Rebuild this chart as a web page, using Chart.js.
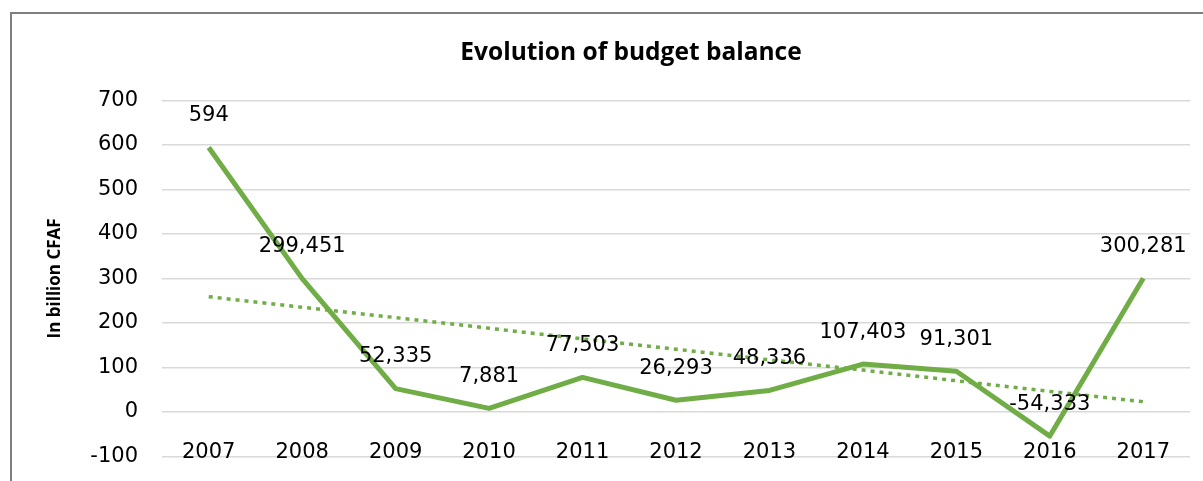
<!DOCTYPE html>
<html>
<head>
<meta charset="utf-8">
<script src="https://cdn.jsdelivr.net/npm/chart.js@4.4.1/dist/chart.umd.min.js"></script>
<style>
  html, body { margin: 0; padding: 0; background: #fff; overflow: hidden; }
  #frame {
    position: absolute; left: 10px; top: 12px;
    width: 1240px; height: 479px;
    border: 2px solid #7f7f7f;
  }
</style>
</head>
<body>
<div id="frame"><canvas id="myChart" width="1240" height="479"></canvas></div>
<script>
// values (billion CFAF)
const years = ["2007", "2008", "2009", "2010", "2011", "2012", "2013", "2014", "2015", "2016", "2017"];
const balance = [594, 299.451, 52.335, 7.881, 77.503, 26.293, 48.336, 107.403, 91.301, -54.333, 300.281];
// dotted trend line as seen in the chart
const trend = [259, 235, 212, 188, 164, 141, 117, 94, 70, 46, 23];

const green = "#70ad47";

// draws the value above each point, with a comma as decimal mark
const valueLabels = {
  id: "valueLabels",
  afterDatasetsDraw(chart) {
    const ctx = chart.ctx;
    const meta = chart.getDatasetMeta(0);
    ctx.save();
    ctx.font = "21px 'DejaVu Sans'";
    ctx.fillStyle = "#000";
    ctx.textAlign = "center";
    ctx.textBaseline = "middle";
    meta.data.forEach((pt, i) => {
      const txt = String(balance[i]).replace(".", ",");
      ctx.fillText(txt, pt.x, pt.y - 32);
    });
    ctx.restore();
  }
};

const chartData = {
  labels: years,
  datasets: [
    {
      label: "Budget balance",
      data: balance,
      borderColor: green,
      borderWidth: 5,
      borderJoinStyle: "round",
      pointRadius: 0,
      tension: 0,
      fill: false,
      order: 2
    },
    {
      label: "Trend",
      data: trend,
      borderColor: green,
      borderWidth: 3.5,
      borderDash: [4, 5],
      pointRadius: 0,
      tension: 0,
      fill: false,
      order: 1
    }
  ]
};

new Chart(document.getElementById("myChart"), {
  type: "line",
  data: chartData,
  plugins: [valueLabels],
  options: {
    responsive: false,
    animation: false,
    layout: { padding: { left: 20, right: 22, top: 0, bottom: 5 } },
    plugins: {
      legend: { display: false },
      tooltip: { enabled: false },
      title: {
        display: true,
        text: "Evolution of budget balance",
        color: "#000",
        font: { family: "Open Sans", size: 24.5, weight: "bold" },
        padding: { top: 24, bottom: 33 }
      }
    },
    scales: {
      x: {
        offset: true,
        grid: { display: false, drawTicks: false },
        border: { display: false },
        ticks: {
          color: "#000",
          font: { family: "DejaVu Sans", size: 21 },
          mirror: true,
          padding: -9,
          maxRotation: 0
        }
      },
      y: {
        min: -100,
        max: 700,
        grid: { color: "#d9d9d9", lineWidth: 1.5, drawTicks: false },
        border: { display: false },
        ticks: {
          stepSize: 100,
          color: "#000",
          font: { family: "DejaVu Sans", size: 21 },
          padding: 24
        },
        title: {
          display: true,
          text: "In billion CFAF",
          color: "#000",
          font: { family: "Open Sans", size: 17, weight: "bold" },
          padding: { top: 13, bottom: 0 }
        },
        afterFit: (s) => { s.width = 130; }
      },
      yRight: {
        position: "right",
        grid: { display: false, drawTicks: false },
        border: { display: false },
        ticks: { display: false },
        afterFit: (s) => { s.width = 40; }
      }
    }
  }
});
</script>
</body>
</html>
